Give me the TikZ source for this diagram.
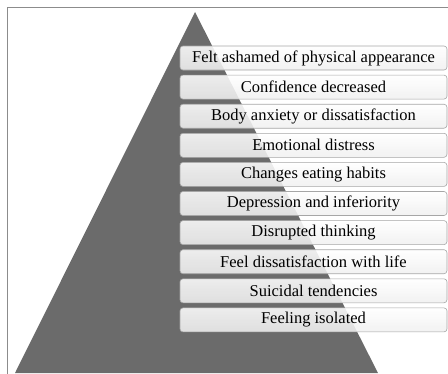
\documentclass[tikz,border=0pt]{standalone}
\usepackage{fontspec}
\setmainfont{Liberation Serif}
\definecolor{pyr}{HTML}{6B6B6B}
\definecolor{frm}{HTML}{8C8C8C}
\tikzset{
  lvl/.style={draw=gray!70, rounded corners=3pt, top color=white, bottom color=gray!12,
    fill opacity=0.88, text opacity=1, minimum width=267pt, minimum height=24pt,
    inner sep=0pt, font=\fontsize{16.5}{17}\selectfont, line width=0.6pt}
}
\begin{document}
\begin{tikzpicture}[x=1pt,y=-1pt]
\useasboundingbox (0,0) rectangle (448,373);
\clip (0,0) rectangle (448,373);
\draw[frm, line width=1pt] (7.5,7.5) rectangle (460,390);
\fill[pyr] (195,12) -- (378,373) -- (15,373) -- cycle;
\foreach \t [count=\i from 0] in {Felt ashamed of physical appearance,Confidence decreased,Body anxiety or dissatisfaction,Emotional distress,Changes eating habits,Depression and inferiority,Disrupted thinking,Feel dissatisfaction with life,Suicidal tendencies,Feeling isolated}{
  \node[lvl] (b\i) at (313.5, 58+29.1*\i) {\t};
}
\end{tikzpicture}
\end{document}
